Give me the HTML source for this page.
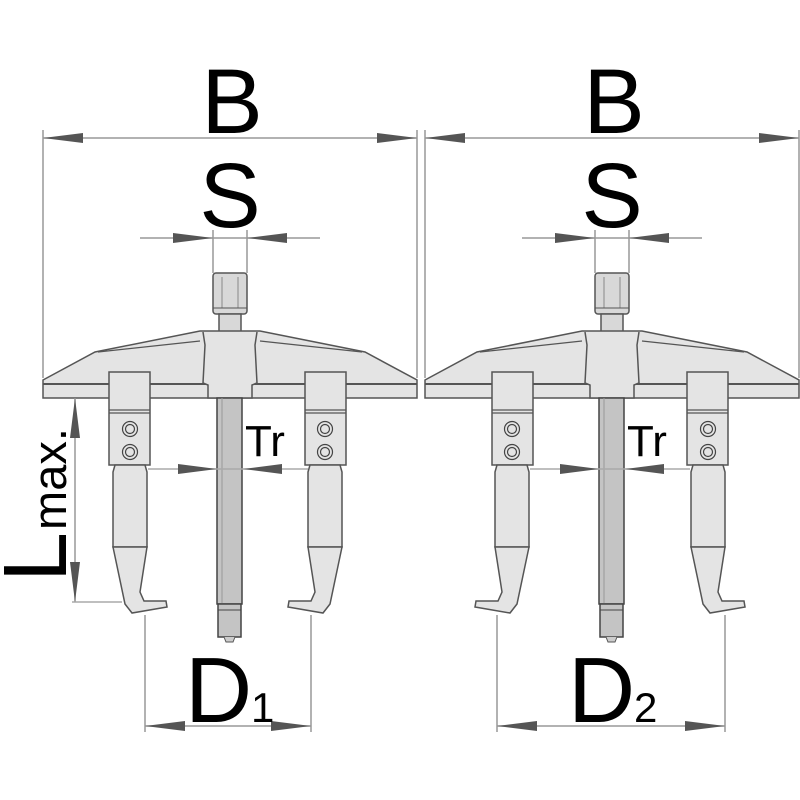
<!DOCTYPE html>
<html><head><meta charset="utf-8"><style>body{margin:0;background:#fff}svg{display:block}</style></head>
<body>
<svg width="800" height="800" viewBox="0 0 800 800" xmlns="http://www.w3.org/2000/svg" font-family="'Liberation Sans', sans-serif">
<defs>
<g id="jaw">
  <rect x="-21" y="372" width="41" height="93" fill="#e4e4e4" stroke="#555" stroke-width="1.5"/>
  <line x1="-21" y1="410" x2="20" y2="410" stroke="#555" stroke-width="1.2"/>
  <line x1="-21" y1="413" x2="20" y2="413" stroke="#555" stroke-width="1.2"/>
  <circle cx="0" cy="429" r="7.5" fill="none" stroke="#444" stroke-width="1.2"/>
  <circle cx="0" cy="429" r="4.5" fill="none" stroke="#444" stroke-width="1.2"/>
  <circle cx="0" cy="452" r="7.5" fill="none" stroke="#444" stroke-width="1.2"/>
  <circle cx="0" cy="452" r="4.5" fill="none" stroke="#444" stroke-width="1.2"/>
  <path d="M-15,465 L15,465 L17,472 L17,547 L-17,547 L-17,472 Z" fill="#e4e4e4" stroke="#555" stroke-width="1.5"/>
  <path d="M-17,547 L-5,604 L2,613 L37,607 L36,601 L14,601 L10,592 L17,547 Z" fill="#e4e4e4" stroke="#555" stroke-width="1.5"/>
</g>
<g id="tool">
  <rect x="213" y="273" width="34" height="41" rx="3" fill="#d8d8d8" stroke="#555" stroke-width="1.5"/>
  <line x1="222" y1="277" x2="222" y2="308" stroke="#888"/>
  <line x1="238" y1="277" x2="238" y2="308" stroke="#888"/>
  <line x1="213" y1="308" x2="247" y2="308" stroke="#555"/>
  <rect x="219" y="314" width="22" height="18" fill="#d8d8d8" stroke="#555" stroke-width="1.5"/>
  <path d="M43,380 L95,352 L200,331 L260,331 L365,352 L417,380 L417,398 L43,398 Z" fill="#e4e4e4" stroke="#555" stroke-width="1.5"/>
  <line x1="43" y1="384" x2="417" y2="384" stroke="#555" stroke-width="2"/>
  <path d="M98,352 L200,341 M362,352 L260,341" stroke="#555" stroke-width="1.3" fill="none"/>
  <path d="M203,332 L205,345 L203,383 L208,385 L208,398 L252,398 L252,385 L257,383 L255,345 L257,332" fill="#e4e4e4" stroke="#555" stroke-width="1.5"/>
  <rect x="217" y="398" width="25" height="206" fill="#c4c4c4" stroke="#444" stroke-width="1.5"/>
  <line x1="222" y1="398" x2="222" y2="604" stroke="#999"/>
  <rect x="218" y="604" width="23" height="33" fill="#c4c4c4" stroke="#444" stroke-width="1.5"/>
  <line x1="218" y1="610" x2="241" y2="610" stroke="#444"/>
  <path d="M224,637 L226,642 L233,642 L235,637" fill="#ccc" stroke="#555"/>
  <!-- Tr -->
  <text x="245" y="456" font-size="44" fill="#000">Tr</text>
  <line x1="148" y1="469" x2="308" y2="469" stroke="#aaa" stroke-width="1.5"/>
  <polygon points="178,464 178,474 217,469" fill="#555"/>
  <polygon points="282,464 282,474 243,469" fill="#555"/>
  <!-- S -->
  <line x1="140" y1="238" x2="320" y2="238" stroke="#999" stroke-width="1.5"/>
  <line x1="213" y1="230" x2="213" y2="273" stroke="#999" stroke-width="1.5"/>
  <line x1="247" y1="230" x2="247" y2="273" stroke="#999" stroke-width="1.5"/>
  <polygon points="173,233 173,243 213,238" fill="#555"/>
  <polygon points="287,233 287,243 247,238" fill="#555"/>
  <text x="230" y="227" font-size="92" text-anchor="middle" fill="#000">S</text>
  <!-- B -->
  <line x1="43" y1="138" x2="417" y2="138" stroke="#999" stroke-width="1.5"/>
  <line x1="43" y1="130" x2="43" y2="378" stroke="#999" stroke-width="1.5"/>
  <line x1="417" y1="130" x2="417" y2="378" stroke="#999" stroke-width="1.5"/>
  <polygon points="83,133 83,143 43,138" fill="#555"/>
  <polygon points="377,133 377,143 417,138" fill="#555"/>
  <text x="232" y="133" font-size="92" text-anchor="middle" fill="#000">B</text>
</g>
</defs>

<use href="#tool"/>
<use href="#tool" transform="translate(382,0)"/>

<!-- left tool jaws -->
<use href="#jaw" transform="translate(130,0)"/>
<use href="#jaw" transform="translate(325,0) scale(-1,1)"/>
<!-- right tool jaws -->
<use href="#jaw" transform="translate(512,0) scale(-1,1)"/>
<use href="#jaw" transform="translate(708,0)"/>

<!-- Lmax -->
<line x1="75" y1="398" x2="75" y2="602" stroke="#999" stroke-width="1.5"/>
<line x1="72" y1="602" x2="122" y2="602" stroke="#aaa" stroke-width="1.5"/>
<polygon points="70,438 80,438 75,398" fill="#555"/>
<polygon points="70,562 80,562 75,602" fill="#555"/>
<text transform="translate(66,582) rotate(-90)" fill="#000"><tspan font-size="90">L</tspan><tspan font-size="47" dx="2">max.</tspan></text>

<!-- D1 -->
<line x1="145" y1="615" x2="145" y2="732" stroke="#999" stroke-width="1.5"/>
<line x1="311" y1="615" x2="311" y2="732" stroke="#999" stroke-width="1.5"/>
<line x1="145" y1="726" x2="311" y2="726" stroke="#999" stroke-width="1.5"/>
<polygon points="185,721 185,731 145,726" fill="#555"/>
<polygon points="271,721 271,731 311,726" fill="#555"/>
<text x="185" y="722" font-size="93" fill="#000">D</text>
<text x="251" y="722" font-size="42" fill="#000">1</text>

<!-- D2 -->
<line x1="497" y1="615" x2="497" y2="732" stroke="#999" stroke-width="1.5"/>
<line x1="725" y1="615" x2="725" y2="732" stroke="#999" stroke-width="1.5"/>
<line x1="497" y1="726" x2="725" y2="726" stroke="#999" stroke-width="1.5"/>
<polygon points="537,721 537,731 497,726" fill="#555"/>
<polygon points="685,721 685,731 725,726" fill="#555"/>
<text x="568" y="722" font-size="93" fill="#000">D</text>
<text x="634" y="722" font-size="42" fill="#000">2</text>
</svg>
</body></html>
